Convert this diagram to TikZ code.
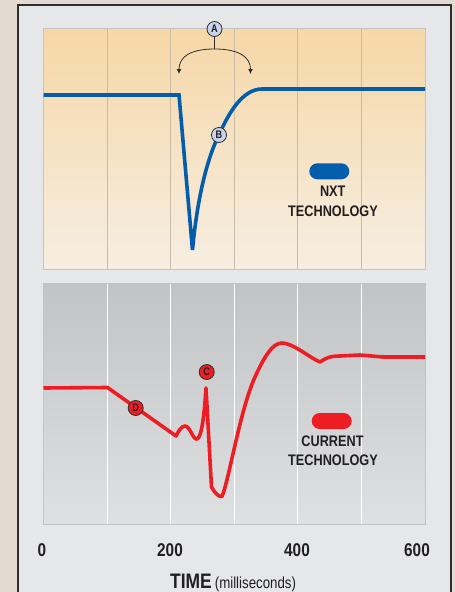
\documentclass[tikz,border=0pt]{standalone}
\usepackage{fontspec}
\setmainfont{Liberation Sans}
\newfontfamily\condf[FakeStretch=0.83]{Liberation Sans}
\newfontfamily\condb[FakeStretch=0.83]{Liberation Sans Bold}
\usetikzlibrary{arrows.meta}
\definecolor{beige}{HTML}{E3DBD0}
\definecolor{framegray}{HTML}{E6E7E9}
\definecolor{framedark}{HTML}{2E2E2E}
\definecolor{toptop}{HTML}{F6D7A7}
\definecolor{topbot}{HTML}{F6EEE2}
\definecolor{bottop}{HTML}{C2C3C5}
\definecolor{botbot}{HTML}{DFE0E2}
\definecolor{tangrid}{HTML}{C9BBA6}
\definecolor{panelborder}{HTML}{C3C3C3}
\definecolor{nxtblue}{HTML}{045DAB}
\definecolor{curred}{HTML}{EE1D24}
\definecolor{lblue}{HTML}{C8D4EB}
\definecolor{ink}{HTML}{231F20}
\begin{document}
\begin{tikzpicture}[x=1pt,y=-1pt,
  marker/.style={circle, draw=framedark, line width=0.8pt, minimum size=15pt, inner sep=0pt,
     font=\condb\fontsize{11}{11}\selectfont, text=ink},
  pill/.style={rectangle, rounded corners=8pt, minimum width=40pt, minimum height=16pt, inner sep=0pt},
  legtext/.style={anchor=base, inner sep=0pt, text=ink, font=\condb\fontsize{15.3}{15.3}\selectfont},
  ticktext/.style={anchor=base, inner sep=0pt, text=ink, font=\condb\fontsize{18.5}{18.5}\selectfont},
  curve/.style={line width=3.6pt, line join=round}
]
\useasboundingbox (0,0) rectangle (455,592);
\clip (0,0) rectangle (455,592);
% background
\fill[beige] (0,0) rectangle (455,592);
\filldraw[fill=framegray, draw=framedark, line width=2pt] (17.5,4.5) rectangle (451,610);
% top panel
\shade[top color=toptop, bottom color=topbot] (43.5,28) rectangle (425,269);
\foreach \gx in {107.5,170.5,234.5,297.5,361.5}
  \draw[tangrid, line width=0.8pt] (\gx,28) -- (\gx,269);
\draw[panelborder, line width=1pt] (43.5,28) rectangle (425,269);
% bottom panel
\shade[top color=bottop, bottom color=botbot] (43.5,283) rectangle (425,524);
\foreach \gx in {107.5,170.5,234.5,297.5,361.5}
  \draw[white, line width=0.8pt] (\gx,283) -- (\gx,524);
\draw[panelborder, line width=1pt] (43.5,283) rectangle (425,524);

% NXT curve
\coordinate (n0) at (43.5,95);
\coordinate (n1) at (179,95);
\coordinate (n2) at (192.5,250);
\coordinate (nB) at (219,135);
\coordinate (n3) at (262,89);
\coordinate (n4) at (425,89);
\draw[curve, nxtblue, line join=miter] (n0) -- (n1) -- (n2)
  .. controls (197,200) and (207,158) .. (nB)
  .. controls (229,112) and (243,89) .. (n3) -- (n4);

% current curve
\coordinate (c0) at (43.5,388);
\coordinate (c1) at (107.5,387.5);
\coordinate (c2) at (176,436);
\coordinate (c3) at (185,426);
\coordinate (c4) at (197,439);
\coordinate (c5) at (206,388);
\coordinate (c6) at (211.5,487);
\coordinate (c7) at (222,496.5);
\coordinate (c8) at (255,377);
\coordinate (c9) at (282,343);
\coordinate (c10) at (320,362);
\coordinate (c11) at (340,356);
\coordinate (c12) at (360,355);
\coordinate (c13) at (383,357);
\coordinate (c14) at (425,357);
\draw[curve, curred] (c0) -- (c1) -- (c2)
  .. controls (179,430) and (182,426) .. (c3)
  .. controls (190,426) and (193,440) .. (c4)
  .. controls (201,438) and (204,420) .. (c5)
  -- (c6)
  .. controls (214,492) and (219,497.5) .. (c7)
  .. controls (229,480) and (240,410) .. (c8)
  .. controls (265,355) and (273,343) .. (c9)
  .. controls (293,343) and (310,358) .. (c10)
  .. controls (326,358) and (330,356) .. (c11)
  -- (c12) -- (c13) -- (c14);

% markers
\node[marker, fill=lblue] (A) at (214.5,29) {A};
\node[marker, fill=lblue] (B) at (219,135) {B};
\node[marker, fill=curred] (C) at (206.7,372) {C};
\node[marker, fill=curred] (D) at (135.7,408) {D};

% A bracket arrows
\coordinate (Aj) at (214.5,49);
\coordinate (AL) at (179,74);
\coordinate (AR) at (250.5,74);
\draw[framedark, line width=0.8pt] (A.south) -- (Aj);
\draw[framedark, line width=0.8pt, -{Latex[length=5pt,width=5pt]}] (Aj) .. controls (190,49) and (179,57) .. (AL);
\draw[framedark, line width=0.8pt, -{Latex[length=5pt,width=5pt]}] (Aj) .. controls (239,49) and (250.5,57) .. (AR);

% legends
\node[pill, fill=nxtblue] (nxtpill) at (329.3,171.3) {};
\node[legtext] (nxt1) at (332.7,196.7) {NXT};
\node[legtext] (nxt2) at (333,216) {TECHNOLOGY};
\node[pill, fill=curred] (curpill) at (331.7,421) {};
\node[legtext] (cur1) at (332.5,446.7) {CURRENT};
\node[legtext] (cur2) at (333,465.7) {TECHNOLOGY};

% axis
\node[ticktext] (t0) at (42,556) {0};
\node[ticktext] (t200) at (170,556) {200};
\node[ticktext] (t400) at (297,556) {400};
\node[ticktext] (t600) at (417,556) {600};
\node[anchor=base west, inner sep=0pt, text=ink] (time) at (170,588.5)
  {{\condb\fontsize{21}{21}\selectfont TIME}\hspace{3pt}{\condf\fontsize{16}{16}\selectfont(milliseconds)}};
\end{tikzpicture}
\end{document}
